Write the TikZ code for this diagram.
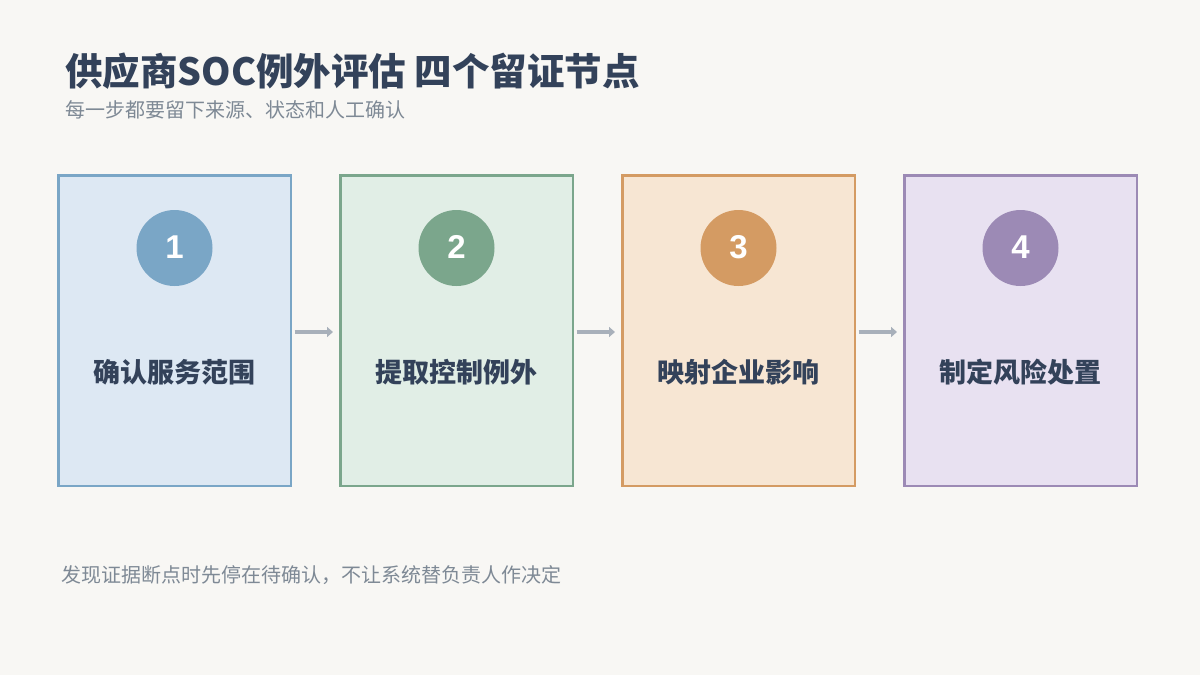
\documentclass[tikz,border=0pt]{standalone}
\usepackage{fontspec}
\setmainfont{Noto Sans CJK SC}
\newfontfamily\cjk{Noto Sans CJK SC}
\newfontfamily\digitfont{Liberation Sans}
\usetikzlibrary{arrows.meta}
\definecolor{bgc}{HTML}{F8F7F4}
\definecolor{titlec}{HTML}{33425A}
\definecolor{grayc}{HTML}{7E8995}
\definecolor{arrc}{HTML}{A8B0BA}
\definecolor{fA}{HTML}{DDE8F3}\definecolor{sA}{HTML}{7AA6C6}
\definecolor{fB}{HTML}{E1EEE6}\definecolor{sB}{HTML}{7BA68C}
\definecolor{fC}{HTML}{F7E6D3}\definecolor{sC}{HTML}{D49B63}
\definecolor{fD}{HTML}{E8E1F1}\definecolor{sD}{HTML}{9C8AB5}
\tikzset{
  stepbox/.style={draw=#1, line width=2.5pt, minimum width=232.5pt, minimum height=310.5pt, inner sep=0pt},
  badge/.style={circle, fill=#1, minimum size=76pt, inner sep=0pt},
  num/.style={anchor=base, inner sep=0pt, text=white, font=\digitfont\bfseries\fontsize{33}{33}\selectfont},
  lbl/.style={anchor=base, inner sep=0pt, text=titlec, font=\cjk\bfseries\fontsize{27}{27}\selectfont},
  arr/.style={draw=arrc, line width=4.5pt, -{Triangle[length=6pt,width=10pt]}}
}
\begin{document}
\begin{tikzpicture}[x=1pt,y=-1pt]
\fill[bgc] (0,0) rectangle (1200,675);
\useasboundingbox (0,0) rectangle (1200,675);
\node[anchor=base west, inner sep=0pt, text=titlec, font=\cjk\bfseries\fontsize{37.5}{37.5}\selectfont] (title) at (65,85) {供应商SOC例外评估 四个留证节点};
\node[anchor=base west, inner sep=0pt, text=grayc, font=\cjk\fontsize{20}{20}\selectfont] (sub) at (65,117.5) {每一步都要留下来源、状态和人工确认};
\node[anchor=base west, inner sep=0pt, text=grayc, font=\cjk\fontsize{20}{20}\selectfont] (foot) at (61,582) {发现证据断点时先停在待确认，不让系统替负责人作决定};

\node[stepbox=sA, fill=fA] (b1) at (174.5,330.5) {};
\node[stepbox=sB, fill=fB] (b2) at (456.5,330.5) {};
\node[stepbox=sC, fill=fC] (b3) at (738.5,330.5) {};
\node[stepbox=sD, fill=fD] (b4) at (1020.5,330.5) {};

\node[badge=sA] (c1) at (174.5,248) {};
\node[badge=sB] (c2) at (456.5,248) {};
\node[badge=sC] (c3) at (738.5,248) {};
\node[badge=sD] (c4) at (1020.5,248) {};

\node[num] (n1) at (174.5,258) {1};
\node[num] (n2) at (456.5,258) {2};
\node[num] (n3) at (738.5,258) {3};
\node[num] (n4) at (1020.5,258) {4};

\node[lbl] (l1) at (174.5,382) {确认服务范围};
\node[lbl] (l2) at (456.5,382) {提取控制例外};
\node[lbl] (l3) at (738.5,382) {映射企业影响};
\node[lbl] (l4) at (1020.5,382) {制定风险处置};

\draw[arr] ([xshift=2.5pt,yshift=-1.5pt]b1.east) -- ([xshift=-6pt,yshift=-1.5pt]b2.west);
\draw[arr] ([xshift=2.5pt,yshift=-1.5pt]b2.east) -- ([xshift=-6pt,yshift=-1.5pt]b3.west);
\draw[arr] ([xshift=2.5pt,yshift=-1.5pt]b3.east) -- ([xshift=-6pt,yshift=-1.5pt]b4.west);
\end{tikzpicture}
\end{document}
